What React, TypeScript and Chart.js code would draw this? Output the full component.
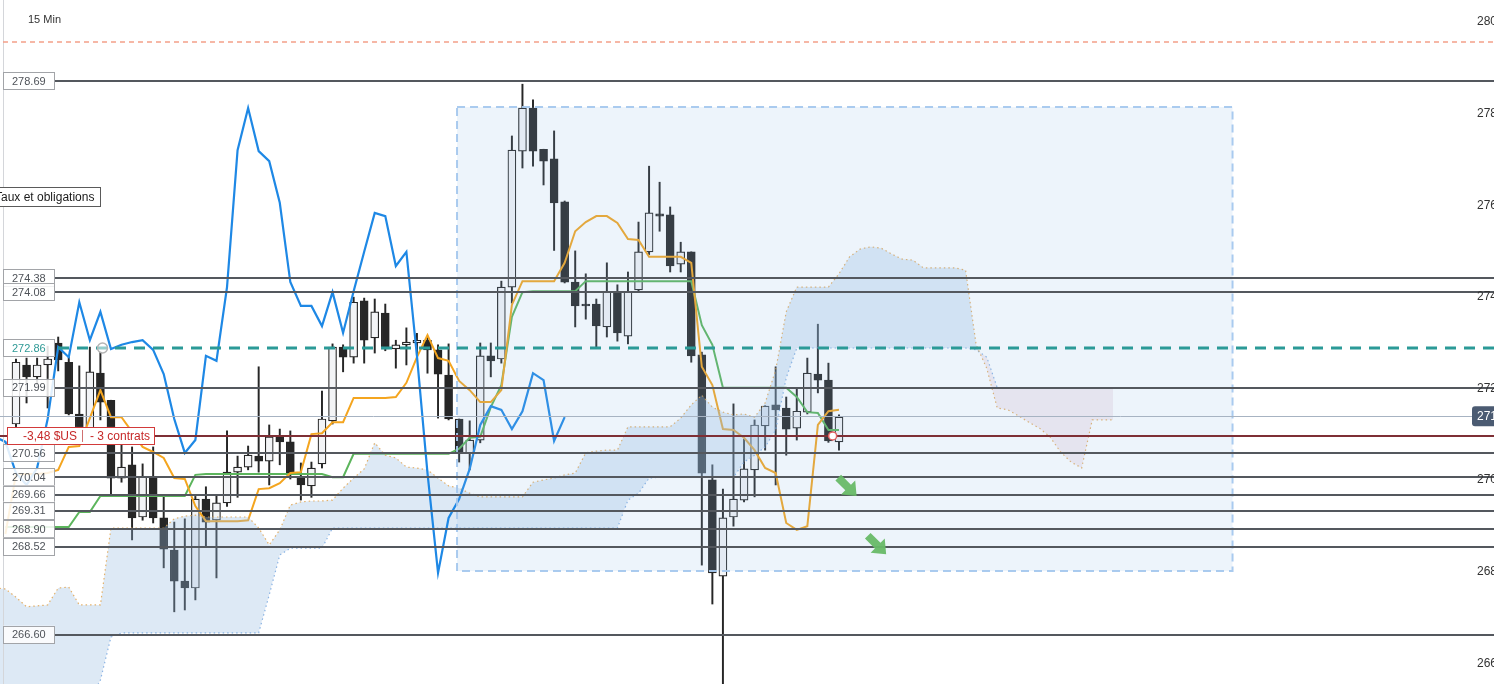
import React, { useEffect, useRef } from "react";
import { Chart, registerables } from "chart.js";

Chart.register(...registerables);

// ---------- data ----------
const OPEN = [
  271.2, 272.49, 272.23, 272.49, 272.97, 272.55, 271.42, 271.03, 272.31, 271.72,
  270.02, 270.31, 269.17, 270.04, 269.15, 268.45, 267.77, 267.62, 269.56, 269.1,
  269.48, 270.15, 270.26, 270.5, 270.39, 270.94, 270.81, 270.02, 269.85, 270.33,
  271.27, 272.88, 272.66, 273.89, 273.08, 273.62, 272.84, 272.93, 272.97, 273.03,
  272.82, 272.27, 271.31, 270.57, 270.85, 272.69, 272.62, 274.19, 277.16, 278.1,
  277.2, 276.99, 276.05, 274.3, 273.82, 273.82, 273.32, 274.1, 273.12, 274.13,
  274.96, 275.79, 275.77, 274.69, 274.96, 272.71, 269.98, 267.88, 269.17, 269.54,
  270.2, 271.16, 271.62, 271.55, 271.11, 271.46, 272.29, 272.16, 270.81,
];
const HIGH = [
  272.62, 272.64, 272.64, 272.9, 273.1, 272.66, 272.47, 272.88, 272.77, 271.72,
  270.8, 270.7, 270.33, 270.7, 269.6, 269.06, 269.13, 269.62, 269.83, 269.65,
  271.05, 270.5, 270.72, 272.45, 271.18, 271.09, 271.05, 270.35, 270.37, 271.92,
  272.95, 272.93, 273.97, 273.95, 273.93, 273.82, 273.03, 273.3, 273.18, 273.12,
  272.93, 272.95, 271.31, 271.27, 272.97, 272.97, 274.32, 277.49, 278.62, 278.28,
  277.2, 277.6, 276.07, 274.98, 274.48, 273.93, 274.72, 274.24, 274.52, 275.61,
  276.83, 276.48, 275.94, 275.17, 274.96, 272.77, 270.31, 269.78, 271.64, 270.87,
  271.29, 271.6, 272.45, 271.79, 271.97, 272.64, 273.38, 272.53, 271.4,
];
const LOW = [
  270.9, 271.66, 272.05, 271.55, 272.36, 271.4, 270.9, 270.95, 271.29, 269.65,
  269.93, 268.67, 269.1, 269.04, 268.06, 267.1, 267.14, 267.36, 268.52, 267.84,
  269.4, 269.6, 270.2, 270.15, 269.87, 270.31, 270.0, 269.54, 269.6, 270.24,
  271.2, 272.34, 272.53, 272.53, 272.75, 272.8, 272.42, 272.49, 272.7, 272.31,
  271.33, 271.29, 270.37, 270.2, 270.79, 272.23, 272.53, 273.84, 276.79, 276.83,
  276.42, 274.99, 274.28, 273.32, 273.49, 272.88, 273.1, 273.01, 272.95, 274.1,
  274.9, 275.41, 274.52, 274.52, 272.55, 268.12, 267.27, 265.3, 268.97, 269.5,
  269.61, 270.63, 269.87, 270.52, 270.85, 271.42, 271.88, 270.8, 270.63,
];
const CLOSE = [
  272.55, 272.23, 272.49, 272.62, 272.6, 271.42, 271.05, 272.34, 271.68, 270.02,
  270.26, 269.15, 270.04, 269.15, 268.47, 267.77, 267.62, 269.56, 269.06, 269.48,
  270.15, 270.26, 270.52, 270.39, 270.92, 270.81, 270.13, 269.87, 270.24, 271.31,
  272.88, 272.66, 273.86, 273.03, 273.65, 272.84, 272.93, 272.99, 273.03, 272.82,
  272.29, 271.31, 270.57, 270.85, 272.69, 272.58, 274.19, 277.18, 278.1, 277.16,
  276.94, 276.03, 274.3, 273.78, 273.78, 273.34, 274.08, 273.19, 274.1, 274.96,
  275.81, 275.74, 274.65, 274.96, 272.69, 270.13, 267.95, 269.15, 269.56, 270.22,
  271.18, 271.59, 271.51, 271.09, 271.48, 272.31, 272.16, 270.83, 271.35,
];

// Tenkan (orange) and Kijun (green), first value at bar index -1
const LINE_START = -1;
const TENKAN = [
  268.8, 270.11, 270.11, 270.11, 270.13, 270.2, 270.7, 270.72, 271.33, 271.94,
  271.35, 271.35, 271.03, 270.7, 270.59, 270.46, 270.02, 270.0, 269.41, 269.08,
  269.08, 269.08, 269.08, 269.1, 269.78, 269.8, 269.91, 270.13, 270.15, 270.98,
  271.0, 271.24, 271.24, 271.77, 271.77, 271.77, 271.77, 271.79, 272.1, 272.66,
  273.14, 272.64, 272.58, 272.14, 271.94, 271.68, 271.68, 271.94, 273.8, 274.32,
  274.32, 274.32, 274.32, 274.72, 275.41, 275.61, 275.74, 275.74, 275.59, 275.24,
  275.22, 274.85, 274.85, 274.85, 274.85, 274.72, 272.45, 272.05, 271.09, 271.07,
  270.9, 270.63, 270.24, 270.13, 269.04, 268.89, 268.97, 271.18, 271.48, 271.51,
];
const KIJUN = [
  268.95, 268.95, 268.95, 268.95, 268.95, 268.95, 268.95, 269.28, 269.28, 269.63,
  269.63, 269.63, 269.63, 269.63, 269.63, 269.63, 269.63, 269.63, 270.09, 270.11,
  270.11, 270.11, 270.11, 270.11, 270.11, 270.11, 270.11, 270.11, 270.11, 270.11,
  270.11, 270.04, 270.04, 270.55, 270.55, 270.55, 270.55, 270.55, 270.55, 270.55,
  270.55, 270.55, 270.55, 270.66, 270.9, 270.92, 271.57, 272.05, 273.54, 274.08,
  274.1, 274.1, 274.1, 274.1, 274.1, 274.32, 274.32, 274.32, 274.32, 274.32,
  274.32, 274.32, 274.32, 274.32, 274.32, 274.32, 273.36, 272.93, 271.99, 271.99,
  271.99, 271.99, 271.99, 271.99, 271.99, 271.79, 271.46, 271.44, 271.07, 271.07,
];

// Chikou span (blue), first value at bar index -2
const CHIKOU_START = -2;
const CHIKOU = [
  270.92, 270.81, 270.13, 269.87, 270.24, 271.31, 272.88, 272.66, 273.86, 273.03,
  273.65, 272.84, 272.93, 272.99, 273.03, 272.82, 272.29, 271.31, 270.57, 270.85,
  272.69, 272.58, 274.19, 277.18, 278.1, 277.16, 276.94, 276.03, 274.3, 273.78,
  273.78, 273.34, 274.08, 273.19, 274.1, 274.96, 275.81, 275.74, 274.65, 274.96,
  272.69, 270.13, 267.95, 269.15, 269.56, 270.22, 271.18, 271.59, 271.51, 271.09,
  271.48, 272.31, 272.16, 270.83, 271.35,
];

// Cloud spans, first value at bar index -2
const CLOUD_START = -2;
const SPAN_A = [
  267.62, 267.6, 267.42, 267.21, 267.23, 267.25, 267.62, 267.64, 267.25, 267.25,
  267.25, 268.93, 268.93, 268.93, 268.93, 268.93, 268.93, 269.13, 269.19, 269.21,
  269.17, 269.17, 269.17, 269.17, 269.17, 268.93, 268.56, 268.89, 269.43, 269.5,
  269.52, 269.52, 269.54, 269.8, 270.02, 270.22, 270.79, 270.52, 270.46, 270.26,
  270.24, 270.2, 270.02, 269.85, 269.8, 269.69, 269.61, 269.61, 269.61, 269.61,
  269.61, 269.93, 269.98, 270.02, 270.09, 270.13, 270.57, 270.61, 270.63, 270.63,
  271.14, 271.14, 271.14, 271.14, 271.14, 271.33, 271.62, 271.83, 271.57, 271.46,
  271.4, 271.42, 271.35, 271.66, 272.38, 273.65, 274.19, 274.19, 274.19, 274.19,
  274.48, 274.85, 275.02, 275.07, 275.04, 274.91, 274.8, 274.78, 274.61, 274.61,
  274.61, 274.61, 274.56, 272.93, 272.42, 271.55, 271.51, 271.38, 271.24, 271.11,
  270.92, 270.59, 270.37, 270.24, 271.29, 271.29, 271.29,
];
const SPAN_B = [
  265.17, 265.17, 265.17, 265.17, 265.17, 265.17, 265.17, 265.17, 265.17, 265.17,
  265.61, 266.55, 266.64, 266.64, 266.64, 266.64, 266.64, 266.64, 266.64, 266.64,
  266.64, 266.64, 266.64, 266.64, 266.64, 266.64, 267.47, 268.34, 268.49, 268.49,
  268.49, 268.49, 268.93, 268.93, 268.93, 268.93, 268.93, 268.93, 268.93, 268.93,
  268.93, 268.93, 268.93, 268.93, 268.93, 268.93, 268.93, 268.93, 268.93, 268.93,
  268.93, 268.93, 268.93, 268.93, 268.93, 268.93, 268.93, 268.93, 268.93, 268.93,
  269.54, 269.69, 270.02, 270.04, 270.04, 270.04, 270.04, 270.04, 270.04, 270.04,
  270.04, 270.37, 270.52, 270.7, 271.07, 272.21, 272.86, 272.86, 272.86, 272.86,
  272.86, 272.86, 272.86, 272.86, 272.86, 272.86, 272.86, 272.86, 272.86, 272.86,
  272.86, 272.86, 272.86, 272.82, 272.66, 271.99, 271.99, 271.99, 271.99, 271.99,
  271.99, 271.99, 271.99, 271.99, 271.99, 271.99, 271.99,
];

// horizontal levels with labels on the left
const LEVELS = [278.69, 274.38, 274.08, 271.99, 270.56, 270.04, 269.66, 269.31, 268.9, 268.52, 266.6];
const LEVEL_LABELS = ["278.69", "274.38", "274.08", "271.99", "270.56", "270.04", "269.66", "269.31", "268.90", "268.52", "266.60"];
const TEAL_LEVEL = 272.86;
const TEAL_LABEL = "272.86";
const ALERT_LEVEL = 279.54;
const POSITION_LEVEL = 270.94;
const LAST_PRICE = 271.37;
const LAST_PRICE_LABEL = "271.37";
const RIGHT_TICKS = [280, 278, 276, 274, 272, 270, 268, 266];
const ZONE = { from: 41.8, to: 115.3, low: 267.99, high: 278.12 };
const ARROW_X = [78.8, 81.6];
const ARROW_Y = [269.83, 268.56];
const MARK_GRAY = { x: 8.2, y: 272.86 };
const MARK_RED = { x: 77.4, y: 270.94 };
const PNL_TEXT = "-3,48 $US";
const QTY_TEXT = "- 3 contrats";
const TIMEFRAME = "15 Min";
const NOTE_TEXT = "Taux et obligations";

const X_MIN = -1.516;
const X_MAX = 140.08;
const Y_MIN = 265.524;
const Y_MAX = 280.4585;

const FONT = '"Liberation Sans", Arial, sans-serif';

const series = (start: number, arr: number[]) => arr.map((v, i) => ({ x: start + i, y: v }));

const overlayPlugin = {
  id: "overlay",
  afterDatasetsDraw(chart: any) {
    const { ctx } = chart;
    const xs = chart.scales.x;
    const ys = chart.scales.y;
    const W = chart.width;
    const H = chart.height;
    const px = (v: number) => xs.getPixelForValue(v);
    const py = (v: number) => ys.getPixelForValue(v);
    ctx.save();

    // zone rectangle
    const zx0 = px(ZONE.from), zx1 = px(ZONE.to), zy0 = py(ZONE.high), zy1 = py(ZONE.low);
    ctx.fillStyle = "rgba(139,184,229,0.155)";
    ctx.fillRect(zx0, zy0, zx1 - zx0, zy1 - zy0);
    ctx.setLineDash([8, 5]);
    ctx.lineWidth = 2;
    ctx.strokeStyle = "rgba(165,200,238,0.95)";
    ctx.strokeRect(zx0, zy0, zx1 - zx0, zy1 - zy0);
    ctx.setLineDash([]);

    // thin left border line
    ctx.strokeStyle = "#d4d6da";
    ctx.lineWidth = 1;
    ctx.beginPath();
    ctx.moveTo(3.5, 0);
    ctx.lineTo(3.5, H);
    ctx.stroke();

    const labelLeft = 3;
    const labelRight = 55;

    // alert dashed line
    ctx.strokeStyle = "#f4a089";
    ctx.lineWidth = 1.5;
    ctx.setLineDash([5, 4]);
    ctx.beginPath();
    ctx.moveTo(labelLeft, py(ALERT_LEVEL));
    ctx.lineTo(W, py(ALERT_LEVEL));
    ctx.stroke();
    ctx.setLineDash([]);

    // last price line
    ctx.strokeStyle = "#a7b3c2";
    ctx.lineWidth = 1;
    ctx.beginPath();
    ctx.moveTo(0, Math.round(py(LAST_PRICE)) + 0.5);
    ctx.lineTo(W, Math.round(py(LAST_PRICE)) + 0.5);
    ctx.stroke();

    // horizontal levels
    ctx.strokeStyle = "#54585e";
    ctx.lineWidth = 2;
    LEVELS.forEach((v) => {
      const y = Math.round(py(v));
      ctx.beginPath();
      ctx.moveTo(labelRight, y);
      ctx.lineTo(W, y);
      ctx.stroke();
    });

    // position line
    ctx.strokeStyle = "#7e2f35";
    ctx.lineWidth = 2;
    ctx.beginPath();
    ctx.moveTo(0, Math.round(py(POSITION_LEVEL)));
    ctx.lineTo(W, Math.round(py(POSITION_LEVEL)));
    ctx.stroke();

    // teal dashed level
    ctx.strokeStyle = "#2b9a97";
    ctx.lineWidth = 3;
    ctx.setLineDash([11, 8]);
    ctx.beginPath();
    ctx.moveTo(labelRight + 3, py(TEAL_LEVEL));
    ctx.lineTo(W, py(TEAL_LEVEL));
    ctx.stroke();
    ctx.setLineDash([]);

    // markers
    ctx.lineWidth = 1.5;
    ctx.strokeStyle = "#b4b4b4";
    ctx.fillStyle = "rgba(255,255,255,0.5)";
    ctx.beginPath();
    ctx.arc(px(MARK_GRAY.x), py(MARK_GRAY.y), 5, 0, Math.PI * 2);
    ctx.fill();
    ctx.stroke();
    ctx.strokeStyle = "#e26262";
    ctx.fillStyle = "#ffffff";
    ctx.beginPath();
    ctx.arc(px(MARK_RED.x), py(MARK_RED.y), 4, 0, Math.PI * 2);
    ctx.fill();
    ctx.stroke();

    // green arrows
    ARROW_X.forEach((ax, i) => {
      const cx = px(ax), cy = py(ARROW_Y[i]);
      ctx.save();
      ctx.translate(cx, cy);
      ctx.rotate(Math.PI / 4);
      ctx.fillStyle = "rgba(104,186,104,0.95)";
      ctx.beginPath();
      ctx.moveTo(-13, -4);
      ctx.lineTo(1, -4);
      ctx.lineTo(1, -10);
      ctx.lineTo(13, 0);
      ctx.lineTo(1, 10);
      ctx.lineTo(1, 4);
      ctx.lineTo(-13, 4);
      ctx.closePath();
      ctx.fill();
      ctx.restore();
    });

    // level labels
    const drawLabel = (v: number, text: string, color: string) => {
      const y = py(v);
      ctx.fillStyle = "rgba(255,255,255,0.86)";
      ctx.fillRect(labelLeft, y - 9, labelRight - labelLeft, 18);
      ctx.strokeStyle = "#a2a4a8";
      ctx.lineWidth = 1;
      ctx.strokeRect(labelLeft + 0.5, Math.round(y - 9) + 0.5, labelRight - labelLeft - 1, 17);
      ctx.fillStyle = color;
      ctx.font = `11px ${FONT}`;
      ctx.textAlign = "left";
      ctx.textBaseline = "middle";
      ctx.fillText(text, 12, y + 0.5);
    };
    LEVELS.forEach((v, i) => drawLabel(v, LEVEL_LABELS[i], "#4f5359"));
    drawLabel(TEAL_LEVEL, TEAL_LABEL, "#2f9a96");

    // P&L box
    const pY = py(POSITION_LEVEL);
    ctx.fillStyle = "#ffffff";
    ctx.fillRect(7, pY - 9, 148, 18);
    ctx.strokeStyle = "#d23a3a";
    ctx.lineWidth = 1;
    ctx.strokeRect(7.5, Math.round(pY - 9) + 0.5, 147, 17);
    ctx.fillStyle = "#c62828";
    ctx.font = `12px ${FONT}`;
    ctx.textBaseline = "middle";
    ctx.textAlign = "left";
    ctx.fillText(PNL_TEXT, 23, pY + 0.5);
    ctx.fillStyle = "#d07070";
    ctx.fillRect(82, pY - 6, 1, 12);
    ctx.fillStyle = "#c62828";
    ctx.fillText(QTY_TEXT, 90, pY + 0.5);

    // note box
    ctx.fillStyle = "#ffffff";
    ctx.fillRect(-1, 187, 102, 20);
    ctx.strokeStyle = "#5a5a5a";
    ctx.strokeRect(-0.5, 187.5, 101, 19);
    ctx.fillStyle = "#1a1a1a";
    ctx.font = `12px ${FONT}`;
    ctx.fillText(NOTE_TEXT, -5, 197.5);

    // timeframe
    ctx.fillStyle = "#333333";
    ctx.font = `11px ${FONT}`;
    ctx.fillText(TIMEFRAME, 28, 20);

    // right axis ticks
    ctx.fillStyle = "#333333";
    ctx.font = `12px ${FONT}`;
    RIGHT_TICKS.forEach((t) => {
      ctx.fillText(String(t), 1477, py(t) + 1);
    });

    // last price tag
    const lp = py(LAST_PRICE);
    ctx.fillStyle = "#4b5b72";
    ctx.beginPath();
    ctx.roundRect(1472, lp - 10, 30, 20, 3);
    ctx.fill();
    ctx.fillStyle = "#ffffff";
    ctx.fillText(LAST_PRICE_LABEL, 1477, lp + 0.5);

    ctx.restore();
  },
};

export default function App() {
  const ref = useRef<HTMLCanvasElement | null>(null);

  useEffect(() => {
    if (!ref.current) return;
    const idx = OPEN.map((_, i) => i);
    const up = idx.map((i) => CLOSE[i] >= OPEN[i]);
    const chart = new Chart(ref.current, {
      type: "bar",
      data: {
        datasets: [
          {
            type: "line",
            label: "Chikou",
            data: series(CHIKOU_START, CHIKOU),
            borderColor: "#1e88e5",
            borderWidth: 2.2,
            pointRadius: 0,
            tension: 0,
            order: 1,
          } as any,
          {
            type: "line",
            label: "Span A",
            data: series(CLOUD_START, SPAN_A),
            borderColor: "rgba(226,165,80,0.85)",
            borderWidth: 1.2,
            borderDash: [1.5, 3],
            pointRadius: 0,
            tension: 0,
            fill: { target: "+1", above: "rgba(152,188,225,0.33)", below: "rgba(228,196,210,0.32)" },
            order: 11,
          } as any,
          {
            type: "line",
            label: "Span B",
            data: series(CLOUD_START, SPAN_B),
            borderColor: "rgba(110,165,225,0.85)",
            borderWidth: 1.2,
            borderDash: [1.5, 3],
            pointRadius: 0,
            tension: 0,
            fill: false,
            order: 12,
          } as any,
          {
            type: "line",
            label: "Tenkan",
            data: series(LINE_START, TENKAN),
            borderColor: "#f4a51f",
            borderWidth: 2,
            pointRadius: 0,
            tension: 0,
            order: 14,
          } as any,
          {
            type: "line",
            label: "Kijun",
            data: series(LINE_START, KIJUN),
            borderColor: "#5cb55c",
            borderWidth: 2,
            pointRadius: 0,
            tension: 0,
            order: 15,
          } as any,
          {
            type: "bar",
            label: "Bodies",
            data: idx.map((i) => ({ x: i, y: [Math.min(OPEN[i], CLOSE[i]), Math.max(OPEN[i], CLOSE[i])] })),
            backgroundColor: up.map((u) => (u ? "#f3f4f6" : "#262626")),
            borderColor: "#262626",
            borderWidth: 1.2,
            borderSkipped: false,
            barThickness: 8,
            grouped: false,
            order: 19,
          } as any,
          {
            type: "bar",
            label: "Wicks",
            data: idx.map((i) => ({ x: i, y: [LOW[i], HIGH[i]] })),
            backgroundColor: "#262626",
            borderWidth: 0,
            barThickness: 1.3,
            grouped: false,
            order: 20,
          } as any,
        ],
      },
      options: {
        responsive: false,
        animation: false,
        events: [],
        layout: { padding: 0 },
        plugins: {
          legend: { display: false },
          tooltip: { enabled: false },
          title: { display: false },
        },
        scales: {
          x: { type: "linear", min: X_MIN, max: X_MAX, display: false, offset: false },
          y: { type: "linear", min: Y_MIN, max: Y_MAX, display: false },
        },
      } as any,
      plugins: [overlayPlugin],
    });
    return () => chart.destroy();
  }, []);

  return (
    <div style={{ position: "fixed", left: 0, top: 0, width: 1494, height: 684, background: "#ffffff", overflow: "hidden" }}>
      <canvas ref={ref} width={1494} height={684} style={{ display: "block", width: 1494, height: 684 }} />
    </div>
  );
}
